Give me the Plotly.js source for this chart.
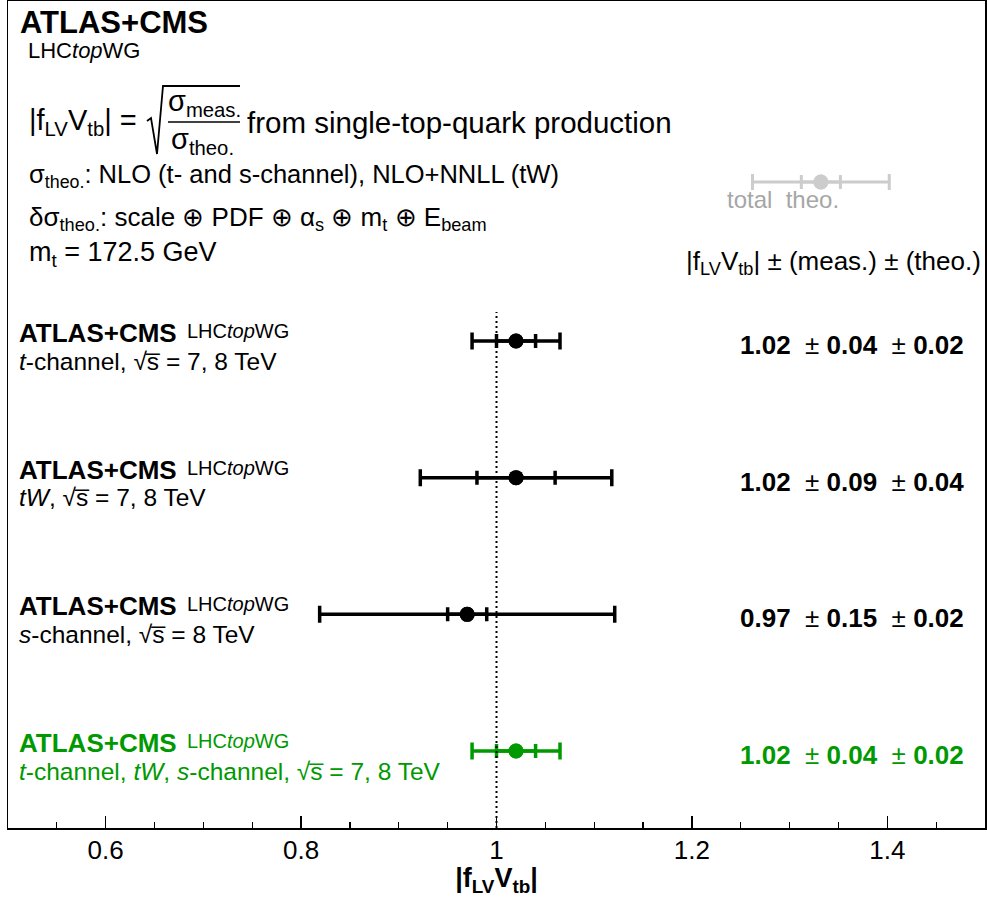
<!DOCTYPE html>
<html>
<head>
<meta charset="utf-8">
<script src="https://cdn.plot.ly/plotly-3.0.1.min.js"></script>
<style>html,body{margin:0;padding:0;background:#fff}#plot{width:987px;height:897px}</style>
</head>
<body>
<div id="plot"></div>
<script>
// ---- data ----
const channels = ["t-channel", "tW", "s-channel", "combined"];
const vtbValues = [1.02, 1.02, 0.97, 1.02];
const measErr = [0.04, 0.09, 0.15, 0.04];
const theoErr = [0.02, 0.04, 0.02, 0.02];
const totalErr = [0.045, 0.098, 0.151, 0.045];
const channelLabels = [
  "<i>t</i>-channel, √s\u0305 = 7, 8 TeV",
  "<i>tW</i>, √s\u0305 = 7, 8 TeV",
  "<i>s</i>-channel, √s\u0305 = 8 TeV",
  "<i>t</i>-channel, <i>tW</i>, <i>s</i>-channel, √s\u0305 = 7, 8 TeV"
];
const legendValue = [1.332];
const legendTotal = [0.07];
const legendTheo = [0.02];
const tickValues = [0.6, 0.8, 1, 1.2, 1.4];
const tickLabels = ["0.6", "0.8", "1", "1.2", "1.4"];

// ---- styling ----
const FONT = "Liberation Sans, Arial, Helvetica, sans-serif";
const rowColors = ["#000000", "#000000", "#000000", "#009900"];
const GREY = "#cccccc";
const W = 987, H = 897;
const M = {l: 8, r: 2, t: 1, b: 69};
const PW = W - M.l - M.r, PH = H - M.t - M.b;
const px = x => (x - M.l) / PW;
const py = y => (H - M.b - y) / PH;
const Y_RANGE = [0.4366, 6.4878];
const LEGEND_Y = 5.163;
const n = channels.length;
const rowY = channels.map((c, i) => n - i);

const traces = [];
channels.forEach((c, i) => {
  const col = rowColors[i];
  traces.push({
    x: [vtbValues[i]], y: [rowY[i]], type: "scatter", mode: "markers",
    marker: {size: 15, color: col},
    error_x: {type: "data", array: [totalErr[i]], symmetric: true, color: col, thickness: 3.5, width: 8.5},
    hoverinfo: "skip", showlegend: false
  });
  traces.push({
    x: [vtbValues[i]], y: [rowY[i]], type: "scatter", mode: "markers",
    marker: {size: 15, color: col},
    error_x: {type: "data", array: [theoErr[i]], symmetric: true, color: col, thickness: 3.5, width: 7},
    hoverinfo: "skip", showlegend: false
  });
});
// legend bar
traces.push({
  x: legendValue, y: [LEGEND_Y], type: "scatter", mode: "markers",
  marker: {size: 15, color: GREY},
  error_x: {type: "data", array: legendTotal, symmetric: true, color: GREY, thickness: 3, width: 8},
  hoverinfo: "skip", showlegend: false
});
traces.push({
  x: legendValue, y: [LEGEND_Y], type: "scatter", mode: "markers",
  marker: {size: 15, color: GREY},
  error_x: {type: "data", array: legendTheo, symmetric: true, color: GREY, thickness: 3, width: 7},
  hoverinfo: "skip", showlegend: false
});

function ann(text, x, y, size, opts) {
  return Object.assign({
    text: text, xref: "paper", yref: "paper", x: px(x), y: py(y),
    xanchor: "left", yanchor: "middle", showarrow: false,
    font: {family: FONT, size: size, color: "#000"}
  }, opts || {});
}

const annotations = [
  ann("<b>ATLAS+CMS</b>", 18, 22, 31),
  ann("LHC<i>top</i>WG", 26, 50, 22),
  ann("|f<sub>LV</sub>V<sub>tb</sub>| =", 27, 122, 29),
  ann("σ<sub>meas.</sub>", 204, 103, 29, {xanchor: "center"}),
  ann("σ<sub>theo.</sub>", 202, 141, 29, {xanchor: "center"}),
  ann("from single-top-quark production", 245, 122, 29.5),
  ann("σ<sub>theo.</sub>: NLO (t- and s-channel), NLO+NNLL (tW)", 27, 176, 25.5),
  ann("δσ<sub>theo.</sub>: scale ⊕ PDF ⊕ α<sub>s</sub> ⊕ m<sub>t</sub> ⊕ E<sub>beam</sub>", 27, 218, 26),
  ann("m<sub>t</sub> = 172.5 GeV", 27, 254, 27),
  ann("total  theo.", 725, 200, 24, {font: {family: FONT, size: 24, color: "#a6a6a6"}}),
  ann("|f<sub>LV</sub>V<sub>tb</sub>| ± (meas.) ± (theo.)", 983, 262, 26, {xanchor: "right"})
];

channels.forEach((c, i) => {
  const col = rowColors[i];
  const f = s => ({family: FONT, size: s, color: col});
  annotations.push({text: "<b>ATLAS+CMS</b>", xref: "paper", yref: "y", x: px(17), y: rowY[i], yshift: 8,
    xanchor: "left", yanchor: "middle", showarrow: false, font: f(26)});
  annotations.push({text: "LHC<i>top</i>WG", xref: "paper", yref: "y", x: px(185), y: rowY[i], yshift: 10,
    xanchor: "left", yanchor: "middle", showarrow: false, font: f(20)});
  annotations.push({text: channelLabels[i], xref: "paper", yref: "y", x: px(17), y: rowY[i], yshift: -20,
    xanchor: "left", yanchor: "middle", showarrow: false, font: f(24.5)});
  annotations.push({
    text: "<b>" + vtbValues[i].toFixed(2) + "</b>  ± <b>" + measErr[i].toFixed(2) + "</b>  ± <b>" + theoErr[i].toFixed(2) + "</b>",
    xref: "paper", yref: "y", x: px(966), y: rowY[i], yshift: -4,
    xanchor: "right", yanchor: "middle", showarrow: false, font: f(26)});
});

const P = (x, y) => px(x).toFixed(5) + "," + py(y).toFixed(5);
const shapes = [
  {type: "line", xref: "x", yref: "paper", x0: 1, x1: 1, y0: 0, y1: py(312),
   line: {color: "#000", width: 2, dash: "2px,3px"}},
  {type: "path", xref: "paper", yref: "paper",
   path: "M" + P(147, 121) + " L" + P(151, 118) + " L" + P(157, 154) + " L" + P(163, 86) + " L" + P(240, 86),
   line: {color: "#000", width: 1.8}},
  {type: "line", xref: "paper", yref: "paper", x0: px(168), x1: px(240), y0: py(122), y1: py(122),
   line: {color: "#000", width: 1.6}}
];

const layout = {
  width: W, height: H,
  margin: M,
  paper_bgcolor: "#fff", plot_bgcolor: "#fff",
  font: {family: FONT, color: "#000"},
  showlegend: false,
  xaxis: {
    range: [0.5, 1.5], tickmode: "array", tickvals: tickValues, ticktext: tickLabels,
    ticks: "inside", ticklen: 12, tickwidth: 1.5, tickcolor: "#000",
    minor: {tickmode: "linear", tick0: 0, dtick: 0.05, ticks: "inside", ticklen: 6, tickwidth: 1.2, tickcolor: "#000"},
    tickfont: {family: FONT, size: 26, color: "#000"},
    ticklabelstandoff: -2,
    showline: true, mirror: true, linecolor: "#000", linewidth: 1.5,
    showgrid: false, zeroline: false, fixedrange: true,
    title: {text: "<b>|f<sub>LV</sub>V<sub>tb</sub>|</b>", font: {family: FONT, size: 27, color: "#000"}, standoff: 3}
  },
  yaxis: {
    range: Y_RANGE, showticklabels: false, ticks: "",
    showline: true, mirror: true, linecolor: "#000", linewidth: 1.5,
    showgrid: false, zeroline: false, fixedrange: true
  },
  annotations: annotations,
  shapes: shapes
};

Plotly.newPlot("plot", traces, layout, {displayModeBar: false, staticPlot: true});
</script>
</body>
</html>
